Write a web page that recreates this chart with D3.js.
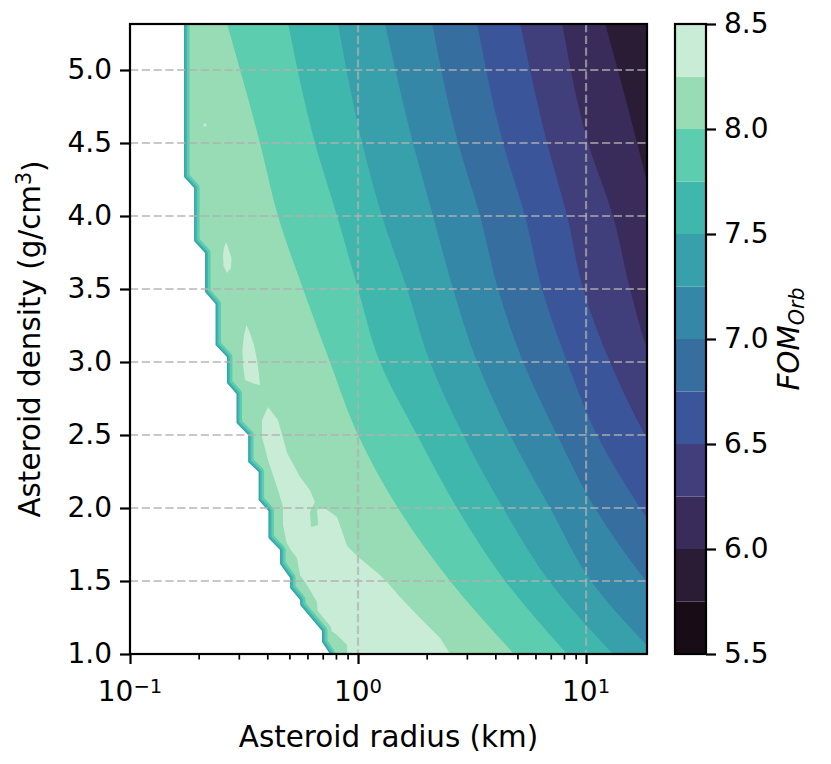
<!DOCTYPE html>
<html><head><meta charset="utf-8">
<script src="https://cdn.jsdelivr.net/npm/d3@7"></script>
<style>
body{margin:0;background:#fff}
svg{display:block}
text{font-family:"DejaVu Sans",sans-serif;fill:#000}
</style>
</head><body>
<svg id="chart" width="831" height="764"></svg>
<script>
// ---------------- data ----------------
const levels = [5.5, 5.75, 6.0, 6.25, 6.5, 6.75, 7.0, 7.25, 7.5, 7.75, 8.0, 8.25, 8.5];
const bandColors = ['#180d16', '#2a1c35', '#3a2c5a', '#413e7c', '#3a559a', '#366ea0',
                    '#3487a6', '#37a0aa', '#40b7ad', '#5ccdae', '#97dcb5', '#c9ecd6'];
const cbarTicks = [5.5, 6.0, 6.5, 7.0, 7.5, 8.0, 8.5];
const densityTicks = [1.0, 1.5, 2.0, 2.5, 3.0, 3.5, 4.0, 4.5, 5.0];
const radiusMajorTicks = [0.1, 1, 10];
const radiusMajorExp = ['\u22121', '0', '1'];
const radiusMinorTicks = [0.2, 0.3, 0.4, 0.5, 0.6, 0.7, 0.8, 0.9, 2, 3, 4, 5, 6, 7, 8, 9];

// densities (g/cm^3) at which each contour line was read
const lineDensity = [5.32, 4.5, 4.0, 3.5, 3.0, 2.5, 2.0, 1.5, 1.0];
// log10 radius (km) of each FOM contour line at those densities
const line800 = [-0.575, -0.430, -0.351, -0.241, -0.123, 0.000, 0.175, 0.404, 0.684];
const line775 = [-0.307, -0.189, -0.092, 0.000, 0.096, 0.259, 0.434, 0.645, 0.917];
const line750 = [-0.088, 0.018, 0.105, 0.215, 0.316, 0.461, 0.636, 0.838, 1.118];
const line725 = [0.118, 0.241, 0.329, 0.417, 0.522, 0.667, 0.842, 1.022, 1.303];
const line700 = [0.325, 0.439, 0.535, 0.614, 0.724, 0.873, 1.039, 1.263, 1.544];
const line675 = [0.522, 0.636, 0.732, 0.807, 0.917, 1.048, 1.237, 1.456, 1.697];
const line650 = [0.711, 0.829, 0.917, 0.987, 1.105, 1.259, 1.456, 1.675, 1.917];
const line625 = [0.895, 1.009, 1.118, 1.193, 1.289, 1.456, 1.654, 1.873, 2.114];
const line600 = [1.083, 1.224, 1.303, 1.390, 1.522, 1.675, 1.873, 2.092, 2.333];

// edge of valid data (log10 radius, density): staircase
const edgeLogR = [-0.763, -0.763, -0.719, -0.719, -0.671, -0.671, -0.625, -0.625, -0.575, -0.575,
                  -0.533, -0.533, -0.482, -0.482, -0.436, -0.436, -0.393, -0.393, -0.342, -0.342,
                  -0.298, -0.298, -0.254, -0.254, -0.158, -0.158, -0.123, -0.110];
const edgeDensity = [5.40, 4.267, 4.192, 3.829, 3.747, 3.479, 3.397, 3.116, 3.034, 2.856,
                     2.781, 2.582, 2.500, 2.315, 2.247, 2.055, 1.979, 1.795, 1.712, 1.616,
                     1.521, 1.452, 1.370, 1.336, 1.158, 1.082, 1.000, 0.960];

// regions with FOM > 8.25
const islandMainLogR = [-0.395, -0.351, -0.311, -0.254, -0.211, -0.189, -0.211, -0.206, -0.175, -0.180,
                        -0.154, -0.092, -0.066, -0.048, -0.004, 0.096, 0.127, 0.184, 0.272, 0.360,
                        0.404, 0.417, -0.048, -0.048, -0.092, -0.136, -0.175, -0.180, -0.224, -0.254,
                        -0.268, -0.311, -0.329, -0.329, -0.351, -0.395, -0.421, -0.421];
const islandMainDensity = [2.692, 2.603, 2.377, 2.212, 2.123, 2.041, 1.973, 1.870, 1.884, 1.986,
                           2.007, 1.938, 1.822, 1.740, 1.671, 1.541, 1.493, 1.390, 1.247, 1.110,
                           1.000, 0.959, 0.959, 1.062, 1.130, 1.178, 1.226, 1.356, 1.473, 1.541,
                           1.658, 1.747, 1.884, 2.007, 2.123, 2.329, 2.486, 2.603];
const islandALogR = [-0.579, -0.566, -0.555, -0.557, -0.575, -0.590, -0.592, -0.588];
const islandADensity = [3.822, 3.767, 3.712, 3.644, 3.610, 3.658, 3.726, 3.781];
const islandBLogR = [-0.489, -0.474, -0.456, -0.443, -0.434, -0.430, -0.452, -0.496, -0.504, -0.507, -0.500];
const islandBDensity = [3.253, 3.199, 3.116, 3.014, 2.911, 2.842, 2.849, 2.877, 2.979, 3.082, 3.185];
const islandDotLogR = [-0.677, -0.665, -0.665, -0.677];
const islandDotDensity = [4.633, 4.633, 4.613, 4.613];

// ---------------- layout ----------------
const svg = d3.select('#chart');
const P = {l: 130, r: 647, t: 24, b: 654};
const x = d3.scaleLog().domain([0.1, 18.5]).range([P.l, P.r]);
const y = d3.scaleLinear().domain([1, 5.315]).range([P.b, P.t]);
const cbar = {x: 675, w: 31};
const cy = d3.scaleLinear().domain([5.5, 8.5]).range([P.b, P.t]);
const colorOf = lvl => bandColors[levels.indexOf(lvl)];

svg.append('defs').append('clipPath').attr('id', 'plotClip')
  .append('rect').attr('x', P.l).attr('y', P.t).attr('width', P.r - P.l).attr('height', P.b - P.t);

const g = svg.append('g').attr('clip-path', 'url(#plotClip)');

// base band 8.0-8.25
g.append('rect')
  .attr('x', x(0.1)).attr('y', y(5.315))
  .attr('width', x(18.5) - x(0.1)).attr('height', y(1) - y(5.315))
  .attr('fill', colorOf(8.0));

const contourLines = [
  {level: 8.0, lr: line800}, {level: 7.75, lr: line775}, {level: 7.5, lr: line750},
  {level: 7.25, lr: line725}, {level: 7.0, lr: line700}, {level: 6.75, lr: line675},
  {level: 6.5, lr: line650}, {level: 6.25, lr: line625}, {level: 6.0, lr: line600}
];
const bandArea = d3.area()
  .curve(d3.curveMonotoneY)
  .y(d => y(d[1]))
  .x0(d => x(Math.pow(10, d[0])))
  .x1(() => P.r + 5);

contourLines.forEach(c => {
  const pts = c.lr.map((v, i) => [v, lineDensity[i]]);
  g.append('path').attr('d', bandArea(pts)).attr('fill', colorOf(c.level - 0.25));
});

// islands above 8.25
const closedLine = d3.line().curve(d3.curveLinearClosed)
  .x(d => x(Math.pow(10, d[0]))).y(d => y(d[1]));
[[islandMainLogR, islandMainDensity], [islandALogR, islandADensity],
 [islandBLogR, islandBDensity], [islandDotLogR, islandDotDensity]].forEach(([lr, de]) => {
  g.append('path').attr('d', closedLine(lr.map((v, i) => [v, de[i]]))).attr('fill', colorOf(8.25));
});

// thin bands along the edge of valid data
const edgePts = edgeLogR.map((v, i) => [v, edgeDensity[i]]);
const openLine = d3.line().x(d => x(Math.pow(10, d[0]))).y(d => y(d[1]));
const sliverLevels = [8.0, 7.75, 7.5, 7.25];
const sliverWidths = [19, 11, 6, 2.5];
sliverLevels.forEach((lvl, i) => {
  g.append('path').attr('d', openLine(edgePts)).attr('fill', 'none')
    .attr('stroke', colorOf(lvl)).attr('stroke-width', sliverWidths[i])
    .attr('stroke-linejoin', 'round');
});

// white mask where no data
const maskPts = edgePts.concat([[-1.2, 0.96], [-1.2, 5.40]]);
g.append('path').attr('d', closedLine(maskPts)).attr('fill', '#fff');

// grid
const grid = svg.append('g').attr('stroke', '#b0b0b0').attr('stroke-opacity', 0.7)
  .attr('stroke-width', 2.2).attr('stroke-dasharray', '8.2,3.6');
grid.selectAll('line.gx').data(radiusMajorTicks.filter(v => v > 0.1)).join('line')
  .attr('x1', d => x(d)).attr('x2', d => x(d)).attr('y1', P.t).attr('y2', P.b);
grid.selectAll('line.gy').data(densityTicks.filter(v => v > 1)).join('line')
  .attr('class', 'gy')
  .attr('x1', P.l).attr('x2', P.r).attr('y1', d => y(d)).attr('y2', d => y(d));

// axes
const yAxis = svg.append('g').attr('transform', `translate(${P.l},0)`)
  .call(d3.axisLeft(y).tickValues(densityTicks).tickFormat(d3.format('.1f')).tickSize(10).tickPadding(8));
const xMajor = svg.append('g').attr('transform', `translate(0,${P.b})`)
  .call(d3.axisBottom(x).tickValues(radiusMajorTicks).tickFormat('').tickSize(10));
const xMinor = svg.append('g').attr('transform', `translate(0,${P.b})`)
  .call(d3.axisBottom(x).tickValues(radiusMinorTicks).tickFormat('').tickSize(5.6));
[yAxis, xMajor, xMinor].forEach(a => a.select('.domain').remove());
yAxis.selectAll('line').attr('stroke', '#000').attr('stroke-width', 2.2);
xMajor.selectAll('line').attr('stroke', '#000').attr('stroke-width', 2.2);
xMinor.selectAll('line').attr('stroke', '#000').attr('stroke-width', 1.7);
yAxis.selectAll('text').attr('font-size', 28).attr('font-family', 'DejaVu Sans').attr('fill', '#000');

const xl = svg.append('g').selectAll('text').data(radiusMajorTicks).join('text')
  .attr('x', d => x(d)).attr('y', 701).attr('text-anchor', 'middle').attr('font-size', 28);
xl.append('tspan').text('10');
xl.append('tspan').attr('dy', '-0.42em').attr('font-size', 19.6).text((d, i) => radiusMajorExp[i]);

// frame
svg.append('rect').attr('x', P.l).attr('y', P.t).attr('width', P.r - P.l).attr('height', P.b - P.t)
  .attr('fill', 'none').attr('stroke', '#000').attr('stroke-width', 2.2);

// axis labels
svg.append('text').attr('x', (P.l + P.r) / 2).attr('y', 747).attr('text-anchor', 'middle')
  .attr('font-size', 29.4).text('Asteroid radius (km)');
const yl = svg.append('text').attr('transform', `translate(40,${(P.t + P.b) / 2}) rotate(-90)`)
  .attr('text-anchor', 'middle').attr('font-size', 29.4);
yl.append('tspan').text('Asteroid density (g/cm');
yl.append('tspan').attr('dy', '-0.42em').attr('font-size', 20.6).text('3');
yl.append('tspan').attr('dy', '0.42em').text(')');

// colorbar
svg.append('g').selectAll('rect').data(bandColors).join('rect')
  .attr('x', cbar.x).attr('width', cbar.w)
  .attr('y', (d, i) => cy(levels[i + 1])).attr('height', (d, i) => cy(levels[i]) - cy(levels[i + 1]))
  .attr('fill', d => d);
svg.append('rect').attr('x', cbar.x).attr('y', P.t).attr('width', cbar.w).attr('height', P.b - P.t)
  .attr('fill', 'none').attr('stroke', '#000').attr('stroke-width', 2.2);
const cAxis = svg.append('g').attr('transform', `translate(${cbar.x + cbar.w},0)`)
  .call(d3.axisRight(cy).tickValues(cbarTicks).tickFormat(d3.format('.1f')).tickSize(10).tickPadding(8));
cAxis.select('.domain').remove();
cAxis.selectAll('line').attr('stroke', '#000').attr('stroke-width', 2.2);
cAxis.selectAll('text').attr('font-size', 28).attr('font-family', 'DejaVu Sans').attr('fill', '#000');

const cl = svg.append('text').attr('transform', `translate(799,${(P.t + P.b) / 2}) rotate(-90)`)
  .attr('text-anchor', 'middle').attr('font-size', 29.4).attr('font-style', 'italic');
cl.append('tspan').text('FOM');
cl.append('tspan').attr('dy', '0.25em').attr('font-size', 20.6).text('Orb');
</script>
</body></html>
